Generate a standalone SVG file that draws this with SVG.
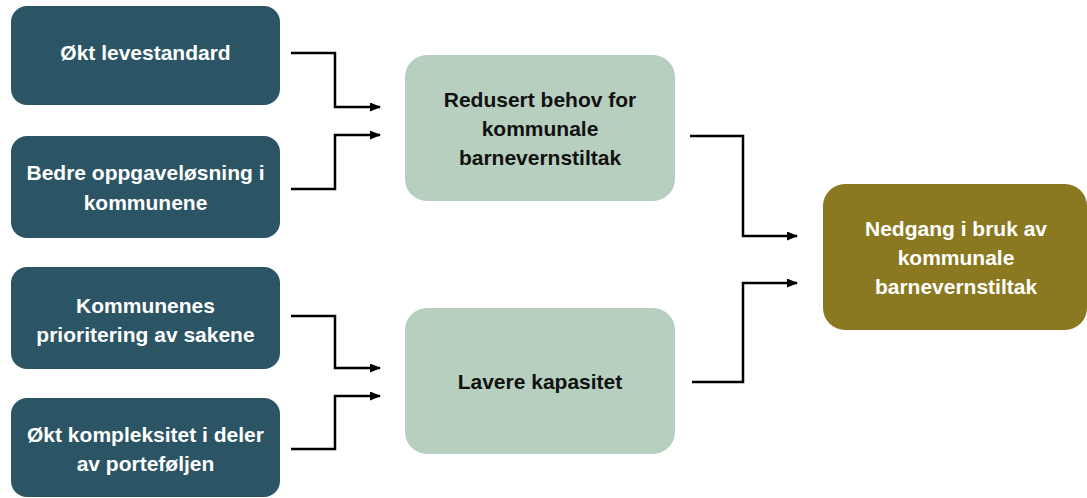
<svg xmlns="http://www.w3.org/2000/svg" width="1087" height="498" viewBox="0 0 1087 498">
<defs>
<marker id="arr" markerUnits="userSpaceOnUse" markerWidth="11" markerHeight="9" refX="10" refY="4.5" orient="auto">
<path d="M0,0 L11,4.5 L0,9 z" fill="#000"/>
</marker>
<style>
.dark{fill:#2B5565}
.light{fill:#B7CFBF}
.olive{fill:#8A7920}
text{font-family:"Liberation Sans",Arial,sans-serif;font-weight:bold;font-size:21px;text-anchor:middle}
.w{fill:#FFFFFF}
.k{fill:#111111}
.conn{fill:none;stroke:#000;stroke-width:2.5;marker-end:url(#arr)}
</style>
</defs>
<rect width="1087" height="498" fill="#FFFFFF"/>
<g id="n1">
<rect class="dark" x="11" y="6" width="269" height="99" rx="16"/>
<text class="w" x="145.5" y="60">Økt levestandard</text>
</g>
<g id="n2">
<rect class="dark" x="11" y="136" width="269" height="102" rx="16"/>
<text class="w" x="145.5" y="180">Bedre oppgaveløsning i</text>
<text class="w" x="145.5" y="210">kommunene</text>
</g>
<g id="n3">
<rect class="dark" x="11" y="267" width="269" height="102" rx="16"/>
<text class="w" x="145.5" y="313">Kommunenes</text>
<text class="w" x="145.5" y="342">prioritering av sakene</text>
</g>
<g id="n4">
<rect class="dark" x="11" y="398" width="269" height="99" rx="16"/>
<text class="w" x="145.5" y="442">Økt kompleksitet i deler</text>
<text class="w" x="145.5" y="471">av porteføljen</text>
</g>
<g id="n5">
<rect class="light" x="405" y="55" width="270" height="146" rx="22"/>
<text class="k" x="540" y="107">Redusert behov for</text>
<text class="k" x="540" y="136">kommunale</text>
<text class="k" x="540" y="165">barnevernstiltak</text>
</g>
<g id="n6">
<rect class="light" x="405" y="308" width="270" height="146" rx="22"/>
<text class="k" x="540" y="389">Lavere kapasitet</text>
</g>
<g id="n7">
<rect class="olive" x="823" y="184" width="264" height="146" rx="22"/>
<text class="w" x="956" y="236">Nedgang i bruk av</text>
<text class="w" x="956" y="265">kommunale</text>
<text class="w" x="956" y="294">barnevernstiltak</text>
</g>
<g id="connectors">
<path class="conn" d="M291,53 H335 V107 H380"/>
<path class="conn" d="M291,189 H335 V135 H380"/>
<path class="conn" d="M291,316 H335 V368 H380"/>
<path class="conn" d="M291,449 H335 V396 H380"/>
<path class="conn" d="M690,136 H743 V236 H797"/>
<path class="conn" d="M692,382 H743 V283 H797"/>
</g>
</svg>
